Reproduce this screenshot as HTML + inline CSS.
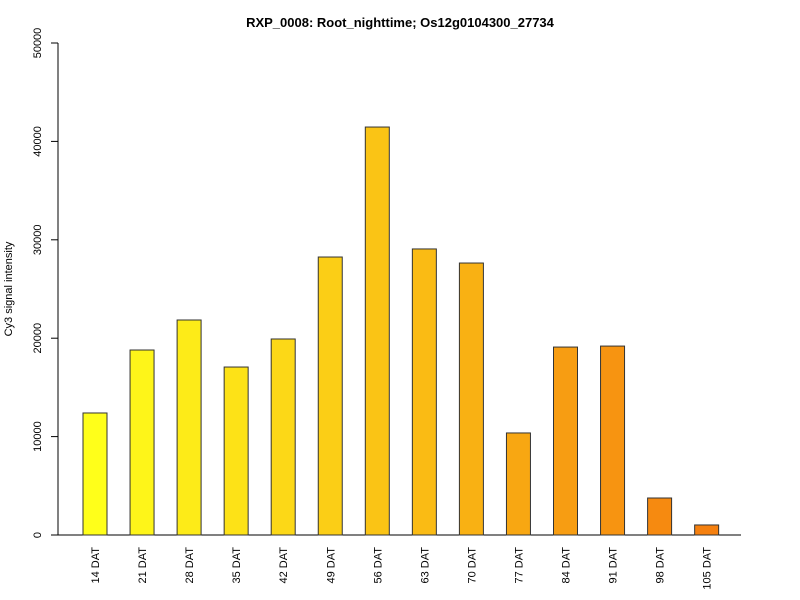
<!DOCTYPE html>
<html><head><meta charset="utf-8"><style>body{margin:0;background:#fff}svg{display:block;font-family:"Liberation Sans",sans-serif}</style></head>
<body>
<svg id="c" width="800" height="600">
<text x="400" y="27" text-anchor="middle" font-weight="bold" font-size="13">RXP_0008: Root_nighttime; Os12g0104300_27734</text>
<text transform="translate(12,289) rotate(-90)" text-anchor="middle" font-size="11">Cy3 signal intensity</text>
<g id="g"></g>
</svg>
<script>
const categories=["14 DAT","21 DAT","28 DAT","35 DAT","42 DAT","49 DAT","56 DAT","63 DAT","70 DAT","77 DAT","84 DAT","91 DAT","98 DAT","105 DAT"];
const values=[12400,18800,21850,17070,19920,28250,41460,29070,27640,10370,19100,19200,3760,1020];
const yTicks=[0,10000,20000,30000,40000,50000];
const g=document.getElementById('g');const NS='http://www.w3.org/2000/svg';
function y(v){return 535-v/50000*492;}
function x(i){return 95+i*47.05;}
function mk(t,a){const e=document.createElementNS(NS,t);for(const k in a)e.setAttribute(k,a[k]);g.appendChild(e);return e;}
let e=mk('line',{x1:58,y1:y(0),x2:58,y2:y(50000),stroke:'#000'});


yTicks.forEach(t=>{
 let l=mk('line',{x1:51,x2:58,y1:y(t),y2:y(t),stroke:'#000'});
 
 
 let tx=mk('text',{x:0,y:0,'font-size':11,'text-anchor':'middle',transform:`translate(41,${y(t)}) rotate(-90)`});
 tx.textContent=t;
 
 
});
e=mk('line',{x1:58,y1:535,x2:741,y2:535,stroke:'#000'});


const n=categories.length;
categories.forEach((c,i)=>{
 const f=i/(n-1);const gr=Math.round(255-f*(255-128));const b=Math.round(26-f*(26-15));const r=Math.round(255-f*10);
 const b1=mk('rect',{x:x(i)-12,y:y(values[i]),width:24,height:y(0)-y(values[i]),fill:`rgb(${r},${gr},${b})`,stroke:'#333','stroke-width':1});
 
 
 const t=mk('text',{x:0,y:0,'font-size':11,'text-anchor':'end',transform:`translate(${x(i)+4},547) rotate(-90)`});
 t.textContent=c;
 
 
});
</script>
</body></html>
